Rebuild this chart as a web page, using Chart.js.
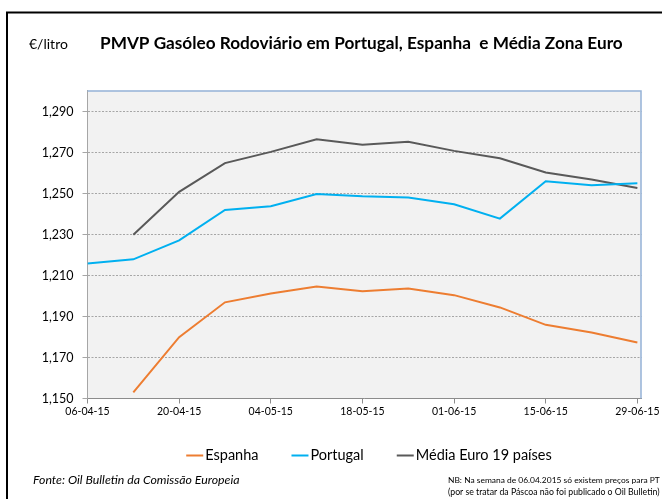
<!DOCTYPE html>
<html><head><meta charset="utf-8">
<script src="https://cdn.jsdelivr.net/npm/chart.js@4/dist/chart.umd.min.js"></script>
<style>html,body{margin:0;padding:0;background:#fff;}#wrap{width:662px;height:499px;position:relative}</style>
</head><body><div id="wrap"><canvas id="c" width="662" height="499"></canvas></div>
<script>
const weeks = ['06-04-15','13-04-15','20-04-15','27-04-15','04-05-15','11-05-15','18-05-15','25-05-15','01-06-15','08-06-15','15-06-15','22-06-15','29-06-15'];
const xTickWeeks = [0,2,4,6,8,10,12];
const espanha = [null,1.153,1.180,1.197,1.2013,1.2047,1.2024,1.2037,1.2005,1.1945,1.186,1.1822,1.1774];
const portugal = [1.216,1.218,1.2273,1.2421,1.2439,1.2499,1.2488,1.2482,1.2449,1.2379,1.2562,1.2542,1.2552];
const mediaEuro = [null,1.230,1.251,1.265,1.2705,1.2767,1.274,1.2754,1.271,1.2674,1.2604,1.257,1.2529];
const yTicks = [1.150,1.170,1.190,1.210,1.230,1.250,1.270,1.290];
const seriesNames = ['Espanha','Portugal','Média Euro 19 países'];
const seriesColors = ['#ed7d31','#00b0f0','#595959'];
const titleText = 'PMVP Gasóleo Rodoviário em Portugal, Espanha  e Média Zona Euro';
const unitText = '€/litro';
const sourceText = 'Fonte: Oil Bulletin da Comissão Europeia';
const noteLines = ['NB: Na semana de 06.04.2015 só existem preços para PT','(por se tratar da Páscoa não foi publicado o Oil Bulletin)'];

const toXY = arr => arr.map((v,i)=>({x:i,y:v}));

function fitFont(ctx, text, target, weight, style, family){
  ctx.font = `${style} ${weight} 20px ${family}`;
  const w = ctx.measureText(text).width;
  const size = 20*target/w;
  ctx.font = `${style} ${weight} ${size}px ${family}`;
  return size;
}

const decor = {
  id:'decor',
  beforeDraw(chart){
    const {ctx, chartArea:a} = chart;
    ctx.save();
    ctx.fillStyle='#fff'; ctx.fillRect(0,0,chart.width,chart.height);
    ctx.fillStyle='#f2f2f2'; ctx.fillRect(a.left,a.top,a.right-a.left,a.bottom-a.top);
    ctx.restore();
  },
  afterDraw(chart){
    const {ctx, chartArea:a} = chart;
    ctx.save();
    // plot border top/right
    ctx.strokeStyle='#95b3d7'; ctx.lineWidth=1.5;
    ctx.beginPath(); ctx.moveTo(a.left,a.top+0.5); ctx.lineTo(a.right-0.5,a.top+0.5); ctx.lineTo(a.right-0.5,a.bottom); ctx.stroke();
    // frame
    ctx.strokeStyle='#000'; ctx.lineWidth=2;
    ctx.beginPath(); ctx.moveTo(662,12.5); ctx.lineTo(7,12.5); ctx.lineTo(7,499); ctx.stroke();
    // texts
    ctx.fillStyle='#000'; ctx.textBaseline='middle';
    ctx.textAlign='left';
    ctx.font='normal 400 14px Lato';
    ctx.fillText(unitText,29,44);
    fitFont(ctx,titleText,523,'700','normal','Lato');
    ctx.fillText(titleText,100,43);
    // legend
    ctx.font='normal 400 14.5px Lato';
    const lineLen=17, gap=2, itemGap=33;
    const widths = seriesNames.map(n=>ctx.measureText(n).width);
    const total = widths.reduce((s,w)=>s+w+lineLen+gap,0)+itemGap*(seriesNames.length-1);
    let x = 369 - total/2; const ly=455;
    seriesNames.forEach((n,i)=>{
      ctx.strokeStyle=seriesColors[i]; ctx.lineWidth=2;
      ctx.beginPath(); ctx.moveTo(x,ly+0.5); ctx.lineTo(x+lineLen,ly+0.5); ctx.stroke();
      ctx.fillStyle='#000';
      ctx.fillText(n,x+lineLen+gap,ly);
      x += lineLen+gap+widths[i]+itemGap;
    });
    // footer
    fitFont(ctx,sourceText,207,'400','italic','Lato');
    ctx.fillText(sourceText,33,480);
    fitFont(ctx,noteLines[0],212,'400','normal','Lato');
    ctx.fillText(noteLines[0],448,480);
    fitFont(ctx,noteLines[1],212,'400','normal','Lato');
    ctx.fillText(noteLines[1],448,492);
    ctx.restore();
  }
};

const mkDs = (name,data,color)=>({label:name,data:toXY(data),borderColor:color,backgroundColor:color,borderWidth:2,pointRadius:0,tension:0,fill:false,spanGaps:false});

new Chart(document.getElementById('c'),{
  type:'line',
  data:{datasets:[
    mkDs(seriesNames[0],espanha,seriesColors[0]),
    mkDs(seriesNames[1],portugal,seriesColors[1]),
    mkDs(seriesNames[2],mediaEuro,seriesColors[2])
  ]},
  options:{
    responsive:false, animation:false, devicePixelRatio:1,
    layout:{padding:{left:0,top:90.5,right:20.5,bottom:80.5}},
    plugins:{legend:{display:false},tooltip:{enabled:false},title:{display:false}},
    scales:{
      x:{type:'linear',min:0,max:12.09,
        afterBuildTicks:s=>{s.ticks=xTickWeeks.map(v=>({value:v}));},
        afterFit:s=>{s.height=20;},
        ticks:{callback:v=>weeks[v],maxRotation:0,autoSkip:false,color:'#000',font:{family:'Lato',size:10.5},padding:2},
        grid:{drawOnChartArea:false,tickLength:5,color:'#8c8c8c'},
        border:{color:'#8c8c8c',width:1}
      },
      y:{min:1.150,max:1.3005,
        afterBuildTicks:s=>{s.ticks=yTicks.map(v=>({value:v}));},
        afterFit:s=>{s.width=87.5;},
        ticks:{callback:v=>v.toFixed(3).replace('.',','),color:'#000',font:{family:'Lato',size:12.5},padding:9},
        grid:{color:'#a6a6a6',tickLength:5,tickColor:'#a6a6a6',tickBorderDash:[]},
        border:{color:'#a6a6a6',dash:[2,1.5],width:1}
      }
    }
  },
  plugins:[decor]
});
</script></body></html>
